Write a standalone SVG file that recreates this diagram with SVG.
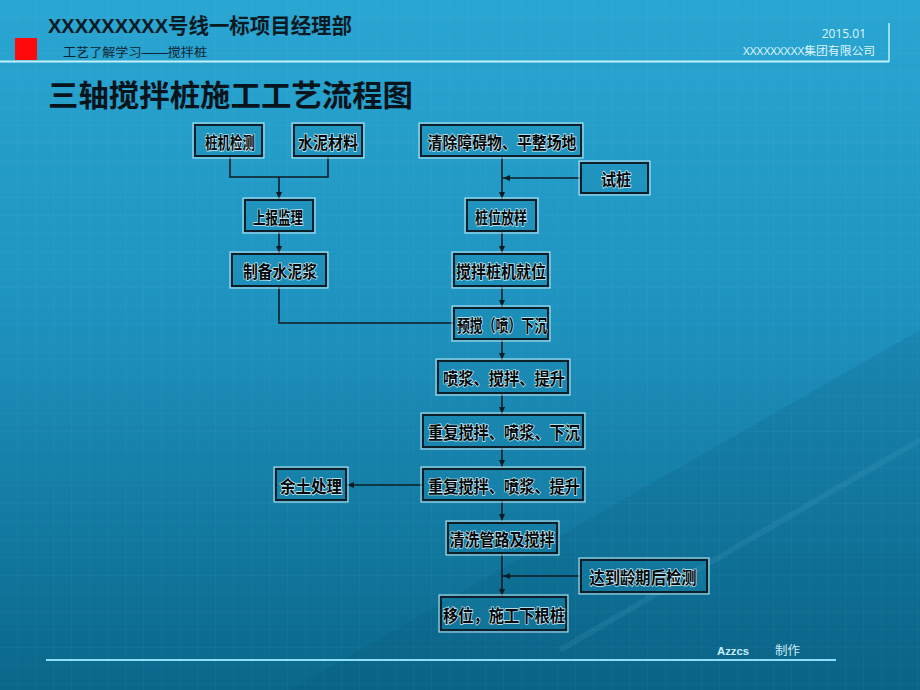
<svg xmlns="http://www.w3.org/2000/svg" width="920" height="690" viewBox="0 0 920 690">
<defs>
<linearGradient id="bg" x1="0" y1="0" x2="0" y2="1">
<stop offset="0" stop-color="#2aa6d2"/>
<stop offset="0.45" stop-color="#1e93bf"/>
<stop offset="1" stop-color="#0a678a"/>
</linearGradient>
<pattern id="grid" width="18" height="18" patternUnits="userSpaceOnUse">
<path d="M18 0V18M0 18H18" fill="none" stroke="#ffffff" stroke-opacity="0.05" stroke-width="1"/>
</pattern>
<marker id="ah" markerWidth="8" markerHeight="8" refX="7" refY="4" orient="auto" markerUnits="userSpaceOnUse">
<path d="M0,1 L7,4 L0,7 Z" fill="#0d1c24"/>
</marker>
<style>
.box{fill:#1a88b0;fill-opacity:0.35;stroke:#0d1f28;stroke-width:2}
.halo{fill:none;stroke:#bfe9f5;stroke-width:1}
.lbl{font-family:"Noto Sans CJK SC","Noto Sans CJK TC",sans-serif;font-weight:700;font-size:17px;fill:#05080a;stroke:#cfeef7;stroke-width:1.4px;paint-order:stroke;text-anchor:middle;dominant-baseline:central}
.con{fill:none;stroke:#0d1c24;stroke-width:1.6}
.hdr{font-family:"Liberation Sans","Noto Sans CJK SC",sans-serif}
</style>
</defs>
<rect width="920" height="690" fill="url(#bg)"/>
<polygon points="290,690 920,330 920,690" fill="#06506e" fill-opacity="0.14"/>
<line x1="560" y1="650" x2="920" y2="440" stroke="#7fd0ea" stroke-opacity="0.1" stroke-width="6"/>
<rect width="920" height="690" fill="url(#grid)"/>

<!-- header -->
<g id="header">
<text class="hdr" x="48" y="33" font-size="21" font-weight="700" fill="#0a1a24"><tspan textLength="120" lengthAdjust="spacingAndGlyphs">XXXXXXXXX</tspan><tspan font-family="Noto Sans CJK SC,sans-serif" font-weight="700" textLength="184" lengthAdjust="spacingAndGlyphs">号线一标项目经理部</tspan></text>
<rect x="15" y="38" width="22" height="22" fill="#ff0a0a"/>
<text class="hdr" x="63" y="57" font-size="12" fill="#0e2430" textLength="144" lengthAdjust="spacingAndGlyphs">工艺了解学习——搅拌桩</text>
<line x1="0" y1="61.5" x2="889" y2="61.5" stroke="#c2f1fb" stroke-width="2"/>
<line x1="889" y1="23" x2="889" y2="62" stroke="#c2f1fb" stroke-width="1.5"/>
<text x="866" y="38" font-family="Open Sans,Noto Sans CJK SC,sans-serif" font-size="12" fill="#dff6ff" text-anchor="end">2015.01</text>
<text x="875" y="55" font-family="Open Sans,Noto Sans CJK SC,sans-serif" font-size="11" fill="#dff6ff" text-anchor="end" textLength="132" lengthAdjust="spacingAndGlyphs">XXXXXXXXX集团有限公司</text>
<text x="48" y="106" font-family="Noto Sans CJK SC,sans-serif" font-size="30" font-weight="700" fill="#08141c" textLength="365" lengthAdjust="spacingAndGlyphs">三轴搅拌桩施工工艺流程图</text>
</g>

<!-- connectors -->
<g id="connectors">
<polyline class="con" points="230,157 230,177 328,177 328,157"/>
<line class="con" x1="279" y1="177" x2="279" y2="199" marker-end="url(#ah)"/>
<line class="con" x1="279" y1="232" x2="279" y2="253" marker-end="url(#ah)"/>
<polyline class="con" points="279,286 279,323 454,323"/>
<line class="con" x1="502" y1="157" x2="502" y2="199" marker-end="url(#ah)"/>
<line class="con" x1="580" y1="178" x2="503" y2="178" marker-end="url(#ah)"/>
<line class="con" x1="502" y1="232" x2="502" y2="253" marker-end="url(#ah)"/>
<line class="con" x1="502" y1="286" x2="502" y2="307" marker-end="url(#ah)"/>
<line class="con" x1="502" y1="340" x2="502" y2="360" marker-end="url(#ah)"/>
<line class="con" x1="502" y1="394" x2="502" y2="414" marker-end="url(#ah)"/>
<line class="con" x1="502" y1="447" x2="502" y2="467" marker-end="url(#ah)"/>
<line class="con" x1="423" y1="485" x2="347" y2="485" marker-end="url(#ah)"/>
<line class="con" x1="502" y1="500" x2="502" y2="521" marker-end="url(#ah)"/>
<line class="con" x1="502" y1="553" x2="502" y2="596" marker-end="url(#ah)"/>
<line class="con" x1="581" y1="576" x2="503" y2="576" marker-end="url(#ah)"/>
</g>

<!-- nodes -->
<g id="n1"><rect class="halo" x="193" y="123" width="71" height="35"/><rect class="box" x="195" y="125" width="67" height="31"/><text class="lbl" x="230" y="141" textLength="50" lengthAdjust="spacingAndGlyphs">桩机检测</text></g>
<g id="n2"><rect class="halo" x="292" y="123" width="72" height="35"/><rect class="box" x="294" y="125" width="68" height="31"/><text class="lbl" x="328" y="141" textLength="60" lengthAdjust="spacingAndGlyphs">水泥材料</text></g>
<g id="n3"><rect class="halo" x="419" y="123" width="164" height="35"/><rect class="box" x="421" y="125" width="160" height="31"/><text class="lbl" x="502" y="141" textLength="149" lengthAdjust="spacingAndGlyphs">清除障碍物、平整场地</text></g>
<g id="n4"><rect class="halo" x="579" y="161" width="71" height="34"/><rect class="box" x="581" y="163" width="67" height="30"/><text class="lbl" x="616" y="178" textLength="30" lengthAdjust="spacingAndGlyphs">试桩</text></g>
<g id="n5"><rect class="halo" x="243" y="198" width="72" height="35"/><rect class="box" x="245" y="200" width="68" height="31"/><text class="lbl" x="278" y="216" textLength="50" lengthAdjust="spacingAndGlyphs">上报监理</text></g>
<g id="n6"><rect class="halo" x="465" y="198" width="73" height="35"/><rect class="box" x="467" y="200" width="69" height="31"/><text class="lbl" x="501" y="216" textLength="52" lengthAdjust="spacingAndGlyphs">桩位放样</text></g>
<g id="n7"><rect class="halo" x="230" y="252" width="98" height="36"/><rect class="box" x="232" y="254" width="94" height="32"/><text class="lbl" x="280" y="270" textLength="74" lengthAdjust="spacingAndGlyphs">制备水泥浆</text></g>
<g id="n8"><rect class="halo" x="452" y="252" width="98" height="36"/><rect class="box" x="454" y="254" width="94" height="32"/><text class="lbl" x="501" y="270" textLength="90" lengthAdjust="spacingAndGlyphs">搅拌桩机就位</text></g>
<g id="n9"><rect class="halo" x="452" y="306" width="98" height="35"/><rect class="box" x="454" y="308" width="94" height="31"/><text class="lbl" x="502" y="324" textLength="90" lengthAdjust="spacingAndGlyphs">预搅（喷）下沉</text></g>
<g id="n10"><rect class="halo" x="436" y="359" width="134" height="36"/><rect class="box" x="438" y="361" width="130" height="32"/><text class="lbl" x="504" y="377" textLength="122" lengthAdjust="spacingAndGlyphs">喷浆、搅拌、提升</text></g>
<g id="n11"><rect class="halo" x="421" y="413" width="164" height="36"/><rect class="box" x="423" y="415" width="160" height="32"/><text class="lbl" x="504" y="431" textLength="152" lengthAdjust="spacingAndGlyphs">重复搅拌、喷浆、下沉</text></g>
<g id="n12"><rect class="halo" x="274" y="467" width="74" height="35"/><rect class="box" x="276" y="469" width="70" height="31"/><text class="lbl" x="311" y="485" textLength="62" lengthAdjust="spacingAndGlyphs">余土处理</text></g>
<g id="n13"><rect class="halo" x="421" y="467" width="164" height="35"/><rect class="box" x="423" y="469" width="160" height="31"/><text class="lbl" x="504" y="485" textLength="152" lengthAdjust="spacingAndGlyphs">重复搅拌、喷浆、提升</text></g>
<g id="n14"><rect class="halo" x="446" y="521" width="113" height="34"/><rect class="box" x="448" y="523" width="109" height="30"/><text class="lbl" x="502" y="538" textLength="105" lengthAdjust="spacingAndGlyphs">清洗管路及搅拌</text></g>
<g id="n15"><rect class="halo" x="579" y="558" width="130" height="36"/><rect class="box" x="581" y="560" width="126" height="32"/><text class="lbl" x="643" y="576" textLength="107" lengthAdjust="spacingAndGlyphs">达到龄期后检测</text></g>
<g id="n16"><rect class="halo" x="439" y="595" width="129" height="37"/><rect class="box" x="441" y="597" width="125" height="33"/><text class="lbl" x="504" y="614" textLength="122" lengthAdjust="spacingAndGlyphs">移位，施工下根桩</text></g>

<!-- footer -->
<g id="footer">
<text x="717" y="655" font-family="Liberation Sans Narrow,Liberation Sans,sans-serif" font-size="11" font-weight="700" fill="#c8eef9" textLength="32" lengthAdjust="spacingAndGlyphs">Azzcs</text>
<text x="775" y="655" font-family="Noto Sans CJK SC,sans-serif" font-size="12" fill="#c8eef9" textLength="25" lengthAdjust="spacingAndGlyphs">制作</text>
<line x1="46" y1="660" x2="836" y2="660" stroke="#8fe0f6" stroke-width="2"/>
</g>
</svg>
